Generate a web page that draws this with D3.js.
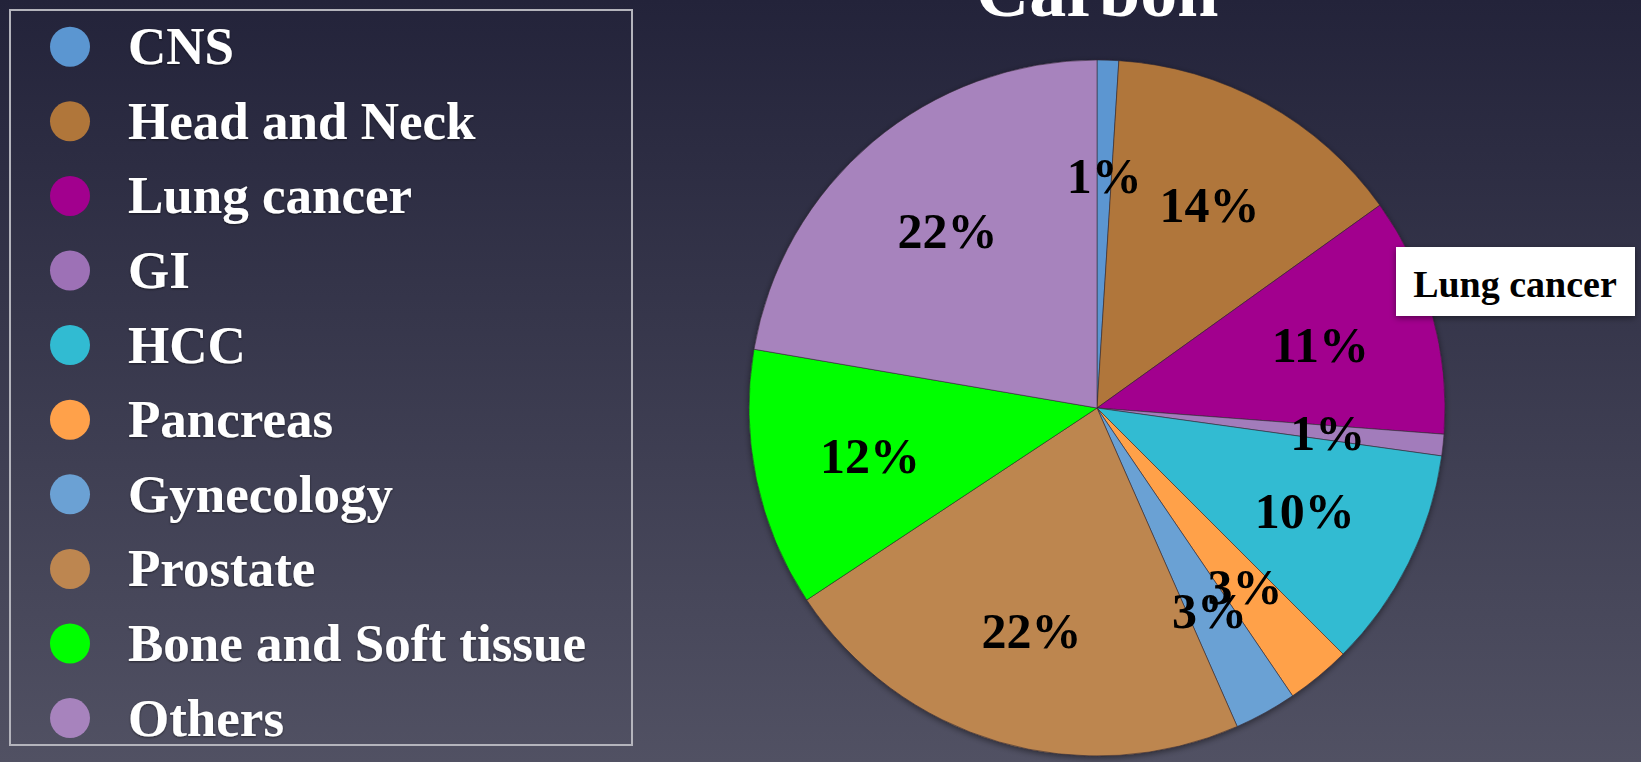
<!DOCTYPE html>
<html>
<head>
<meta charset="utf-8">
<script src="https://cdn.jsdelivr.net/npm/d3@7/dist/d3.min.js"></script>
<style>
  html, body { margin: 0; padding: 0; overflow: hidden; }
  body { width: 1641px; height: 762px; }
  text { font-family: "Liberation Serif", "Times New Roman", serif; font-weight: bold; }
</style>
</head>
<body>
<svg id="chart" width="1641" height="762"></svg>
<script>
const title = "Carbon";
const categories = ["CNS", "Head and Neck", "Lung cancer", "GI", "HCC", "Pancreas", "Gynecology", "Prostate", "Bone and Soft tissue", "Others"];
const values = [1.0, 14.1, 11.1, 1.0, 10.3, 3.0, 2.9, 22.3, 12.0, 22.3];
const sliceLabels = ["1%", "14%", "11%", "1%", "10%", "3%", "3%", "22%", "12%", "22%"];
const sliceColors = ["#5b96d1", "#b0763a", "#a2008e", "#a27bbb", "#31bbd2", "#ffa14a", "#6ba1d4", "#bd8650", "#00ff00", "#a783bd"];
const legendColors = ["#5b96d1", "#b0763a", "#a2008e", "#9d71b6", "#31bbd2", "#ffa14a", "#6ba1d4", "#bd8650", "#00ff00", "#a783bd"];
const calloutText = "Lung cancer";

const W = 1641, H = 762;
const svg = d3.select("#chart");
const defs = svg.append("defs");

const bg = defs.append("linearGradient").attr("id", "bg").attr("x1", 0).attr("y1", 0).attr("x2", 0).attr("y2", 1);
bg.append("stop").attr("offset", "0%").attr("stop-color", "#23233a");
bg.append("stop").attr("offset", "100%").attr("stop-color", "#515163");
svg.append("rect").attr("width", W).attr("height", H).attr("fill", "url(#bg)");

const shadow = defs.append("filter").attr("id", "shadow").attr("x", "-20%").attr("y", "-20%").attr("width", "140%").attr("height", "140%");
shadow.append("feDropShadow").attr("dx", 0).attr("dy", 2).attr("stdDeviation", 3).attr("flood-color", "#000").attr("flood-opacity", 0.45);

const txtShadow = defs.append("filter").attr("id", "tshadow").attr("x", "-20%").attr("y", "-20%").attr("width", "140%").attr("height", "140%");
txtShadow.append("feDropShadow").attr("dx", 0).attr("dy", 1).attr("stdDeviation", 1).attr("flood-color", "#000").attr("flood-opacity", 0.5);

// Title
const cx = 1097, cy = 408, R = 348;
svg.append("text").attr("x", cx).attr("y", 16).attr("text-anchor", "middle")
  .attr("font-size", 74).attr("fill", "#ffffff").text(title);

// Legend
const legendG = svg.append("g");
legendG.append("rect").attr("x", 10).attr("y", 10).attr("width", 622).attr("height", 735)
  .attr("fill", "none").attr("stroke", "#b4b4bc").attr("stroke-width", 2);
const ly = d3.scalePoint().domain(categories).range([46.7, 46.7 + 9 * 74.6]);
const items = legendG.selectAll("g.item").data(categories).join("g").attr("class", "item")
  .attr("transform", d => `translate(0,${ly(d)})`);
items.append("circle").attr("cx", 70).attr("cy", 0).attr("r", 20)
  .attr("fill", (d, i) => legendColors[i]);
items.append("text").attr("x", 128).attr("y", 0).attr("dy", "0.33em")
  .attr("font-size", 53).attr("fill", "#ffffff").attr("filter", "url(#tshadow)").text(d => d);

// Pie
const pie = d3.pie().sort(null).value(d => d.v);
const data = categories.map((c, i) => ({ c, v: values[i], i }));
const arcs = pie(data);
const arc = d3.arc().innerRadius(0).outerRadius(R);
const labelArc = d3.arc().innerRadius(232).outerRadius(232);

const pieG = svg.append("g").attr("transform", `translate(${cx},${cy})`);
pieG.append("g").attr("filter", "url(#shadow)")
  .selectAll("path").data(arcs).join("path")
  .attr("d", arc)
  .attr("fill", d => sliceColors[d.data.i])
  .attr("stroke", "rgba(50,40,50,0.55)").attr("stroke-width", 1);

pieG.selectAll("text.lbl").data(arcs).join("text").attr("class", "lbl")
  .attr("x", d => labelArc.centroid(d)[0])
  .attr("y", d => labelArc.centroid(d)[1])
  .attr("dy", "0.34em")
  .attr("text-anchor", "middle")
  .attr("font-size", 50).attr("fill", "#000000")
  .text(d => sliceLabels[d.data.i]);

// Callout box
const cg = svg.append("g");
cg.append("rect").attr("x", 1396).attr("y", 247).attr("width", 239).attr("height", 69)
  .attr("fill", "#ffffff").attr("filter", "url(#shadow)");
cg.append("text").attr("x", 1515).attr("y", 297).attr("text-anchor", "middle")
  .attr("font-size", 38).attr("fill", "#000000").text(calloutText);
</script>
</body>
</html>
